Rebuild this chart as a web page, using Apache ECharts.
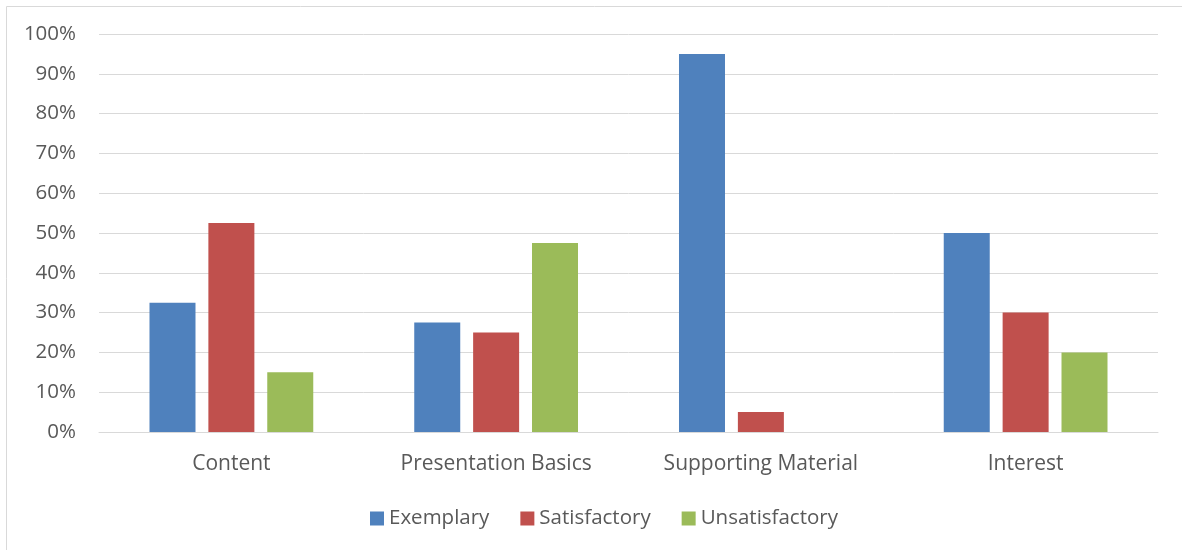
<!DOCTYPE html>
<html>
<head>
<meta charset="utf-8">
<script src="https://cdn.jsdelivr.net/npm/echarts@6/dist/echarts.min.js"></script>
<style>
html,body{margin:0;padding:0;background:#fff;}
#c{width:1182px;height:550px;}
</style>
</head>
<body>
<div id="c"></div>
<script>
const categories = ["Content", "Presentation Basics", "Supporting Material", "Interest"];
const seriesNames = ["Exemplary", "Satisfactory", "Unsatisfactory"];
const exemplary = [32.5, 27.5, 95, 50];
const satisfactory = [52.5, 25, 5, 30];
const unsatisfactory = [15, 47.5, 0, 20];
const colors = ["#4F81BD", "#C0504D", "#9BBB59"];

const font = "'Open Sans', 'Liberation Sans', sans-serif";
const chart = echarts.init(document.getElementById('c'));
const data = [exemplary, satisfactory, unsatisfactory];
chart.setOption({
  animation: false,
  textStyle: {fontFamily: font},
  graphic: [{
    type: 'rect', silent: true,
    shape: {x: 6.5, y: 6.5, width: 1300, height: 700},
    style: {fill: 'none', stroke: '#d9d9d9', lineWidth: 1}
  }],
  grid: {left: 99, right: 24, top: 34, bottom: 118},
  legend: {
    data: seriesNames,
    top: 503,
    left: 365,
    itemWidth: 14, itemHeight: 14, itemGap: 31,
    icon: 'rect',
    textStyle: {color: '#595959', fontSize: 20.5, fontFamily: font}
  },
  xAxis: {
    type: 'category',
    data: categories,
    axisTick: {show: false},
    axisLine: {lineStyle: {color: '#d9d9d9', width: 1}},
    axisLabel: {color: '#595959', fontSize: 21, margin: 22, fontFamily: font}
  },
  yAxis: {
    type: 'value',
    min: 0, max: 100, interval: 10,
    axisLine: {show: false},
    axisTick: {show: false},
    splitLine: {lineStyle: {color: '#d9d9d9', width: 1}},
    axisLabel: {color: '#595959', fontSize: 20.5, margin: 23, fontFamily: font, padding: [3, 0, 0, 0], formatter: v => v + '%'}
  },
  series: seriesNames.map((n, i) => ({
    name: n,
    type: 'bar',
    data: data[i],
    barWidth: 46,
    barGap: '28%',
    itemStyle: {color: colors[i]}
  }))
});
</script>
</body>
</html>
